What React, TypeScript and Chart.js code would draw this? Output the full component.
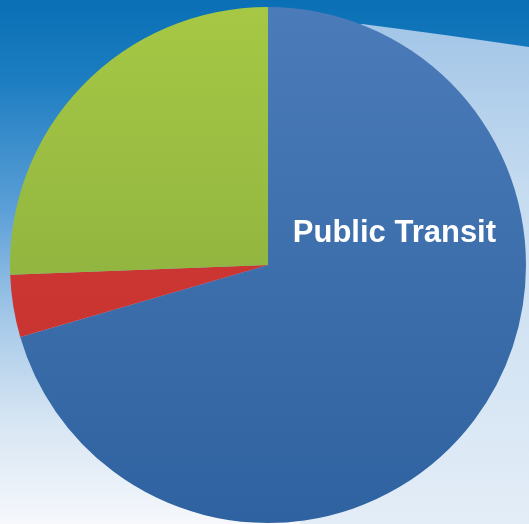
import React, { useEffect, useRef } from "react";
import { Chart, registerables } from "chart.js";
Chart.register(...registerables);

const categories = ["Public Transit", "Other", "Car"];
const shares = [70.5, 3.9, 25.6];
const shownLabels = ["Public Transit"];

const W = 529;
const H = 524;

const sliceStops: string[][] = [
  ["#4b7bb9", "#3e6fad", "#2f62a0"],
  ["#d63d38", "#cc3632", "#c0302e"],
  ["#a6c845", "#93b640", "#7c9d38"],
];

const bgPlugin = {
  id: "bgPaint",
  beforeDraw(chart: any) {
    const ctx = chart.ctx;
    ctx.save();
    const g = ctx.createLinearGradient(0, 0, 0, H);
    g.addColorStop(0, "#0a6fb5");
    g.addColorStop(0.15, "#1c7dc1");
    g.addColorStop(0.4, "#5c9fd7");
    g.addColorStop(0.62, "#a8cae9");
    g.addColorStop(0.8, "#d6e5f3");
    g.addColorStop(1, "#f6f8fc");
    ctx.fillStyle = g;
    ctx.fillRect(0, 0, W, H);
    ctx.beginPath();
    ctx.moveTo(350, 30);
    ctx.lineTo(362, 24);
    ctx.quadraticCurveTo(440, 34, 529, 47);
    ctx.lineTo(529, H);
    ctx.lineTo(300, H);
    ctx.closePath();
    const g2 = ctx.createLinearGradient(0, 20, 0, H);
    g2.addColorStop(0, "#a2c5e7");
    g2.addColorStop(0.35, "#c6dcf0");
    g2.addColorStop(1, "#e3edf7");
    ctx.fillStyle = g2;
    ctx.fill();
    ctx.restore();
  },
};

const labelPlugin = {
  id: "sliceLabel",
  afterDatasetsDraw(chart: any) {
    const meta = chart.getDatasetMeta(0);
    const ctx = chart.ctx;
    ctx.save();
    ctx.fillStyle = "#ffffff";
    ctx.font = "bold 31px 'Liberation Sans', Arial, sans-serif";
    ctx.textAlign = "center";
    ctx.textBaseline = "alphabetic";
    shownLabels.forEach((lab) => {
      const i = categories.indexOf(lab);
      const arc = meta.data[i];
      if (!arc) return;
      const x = arc.x + 0.49 * arc.outerRadius;
      const y = arc.y - 0.09 * arc.outerRadius;
      ctx.fillText(lab, x, y);
    });
    ctx.restore();
  },
};

export default function App() {
  const ref = useRef<HTMLCanvasElement | null>(null);
  useEffect(() => {
    document.body.style.margin = "0";
    if (!ref.current) return;
    const chart = new Chart(ref.current, {
      type: "pie",
      data: {
        labels: categories,
        datasets: [
          {
            data: shares,
            borderWidth: 0,
            backgroundColor: (c: any) => {
              const chartObj = c.chart;
              const area = chartObj.chartArea;
              const stops = sliceStops[c.dataIndex] || sliceStops[0];
              if (!area) return stops[1];
              const g = chartObj.ctx.createLinearGradient(0, area.top, 0, area.bottom);
              g.addColorStop(0, stops[0]);
              g.addColorStop(0.5, stops[1]);
              g.addColorStop(1, stops[2]);
              return g;
            },
          },
        ],
      },
      options: {
        responsive: false,
        animation: false,
        layout: { padding: { left: 10, right: 3, top: 7, bottom: 1 } },
        plugins: {
          legend: { display: false },
          tooltip: { enabled: false },
          title: { display: false },
        },
      },
      plugins: [bgPlugin, labelPlugin],
    });
    return () => chart.destroy();
  }, []);
  return (
    <canvas
      ref={ref}
      width={W}
      height={H}
      style={{ display: "block", width: W, height: H }}
    />
  );
}
